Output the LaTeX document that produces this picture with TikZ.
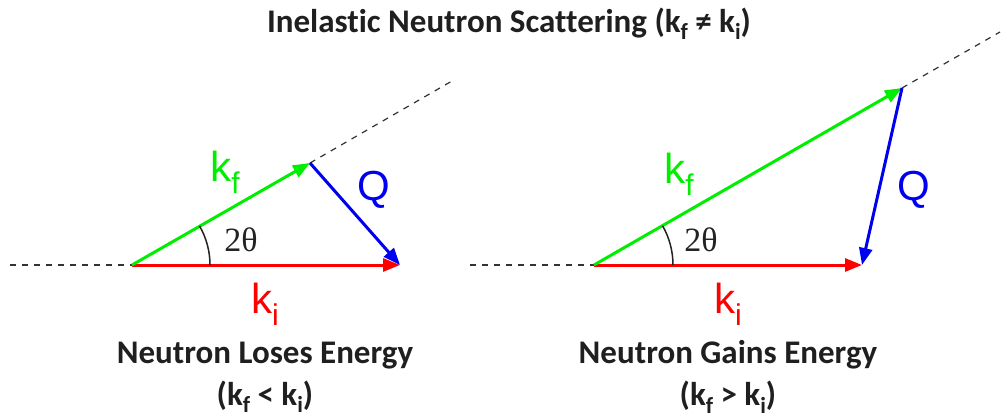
\documentclass[tikz,border=0pt]{standalone}
\usepackage{fontspec}
\setmainfont[Ligatures=NoCommon]{Carlito}
\newfontfamily\arialf{Liberation Sans}
\newfontfamily\serff{Liberation Serif}
\usetikzlibrary{arrows.meta}
\definecolor{vgreen}{RGB}{0,238,0}
\definecolor{vred}{RGB}{255,0,0}
\definecolor{vblue}{RGB}{0,0,240}
\definecolor{dgray}{RGB}{35,35,35}
\newcommand{\sub}[1]{\raisebox{-0.28em}{\fontsize{30}{30}\selectfont #1}}
\newcommand{\bsub}[1]{\raisebox{-0.22em}{\fontsize{23}{23}\selectfont #1}}
\tikzset{
  vec/.style={line width=3pt,-{Triangle[length=17pt,width=13pt]}},
  guide/.style={line width=1.2pt,dash pattern=on 6pt off 6pt,black!80},
  anglearc/.style={line width=1.5pt,dgray},
  veclabel/.style={font=\arialf\fontsize{42}{42}\selectfont,inner sep=0pt},
  anglelabel/.style={font=\serff\fontsize{34}{34}\selectfont,text=dgray,inner sep=0pt},
  caption/.style={font=\bfseries\fontsize{33}{33}\selectfont,text=black!88,inner sep=0pt,align=center}
}
\begin{document}
\begin{tikzpicture}[x=1pt,y=-1pt]
\useasboundingbox (0,0) rectangle (1002,417);
\node[caption] (title) at (509,24) {Inelastic Neutron Scattering (k\bsub{f} ≠ k\bsub{i})};
% left diagram
\coordinate (LO) at (132,265);
\coordinate (LI) at (400,265);
\coordinate (LF) at (310,163);
\coordinate (LS) at (10,265);
\coordinate (LE) at (452,81);
\draw[guide] (LS) -- (LO);
\draw[guide] (LF) -- (LE);
\draw[vec,vred] (LO) -- (LI);
\draw[vec,vgreen] (LO) -- (LF);
\draw[vec,vblue] (LF) -- (LI);
\draw[anglearc] (LO) ++(0:78) arc[start angle=0,end angle=-30,radius=78];
\node[veclabel,text=vgreen] (lkf) at (225,172) {k\sub{f}};
\node[veclabel,text=vblue] (lq) at (374,190) {Q};
\node[veclabel,text=vred] (lki) at (265,304) {k\sub{i}};
\node[anglelabel] (lth) at (241,240) {2θ};
\node[caption] (lcap) at (265,377) {Neutron Loses Energy\\[9pt](k\bsub{f} < k\bsub{i})};
% right diagram
\coordinate (RO) at (594,265);
\coordinate (RI) at (862,265);
\coordinate (RF) at (902,88);
\coordinate (RS) at (470,265);
\coordinate (RE) at (1000,32);
\draw[guide] (RS) -- (RO);
\draw[guide] (RF) -- (RE);
\draw[vec,vred] (RO) -- (RI);
\draw[vec,vgreen] (RO) -- (RF);
\draw[vec,vblue] (RF) -- (RI);
\draw[anglearc] (RO) ++(0:79) arc[start angle=0,end angle=-29.7,radius=79];
\node[veclabel,text=vgreen] (rkf) at (679,174) {k\sub{f}};
\node[veclabel,text=vblue] (rq) at (914,190) {Q};
\node[veclabel,text=vred] (rki) at (728,304) {k\sub{i}};
\node[anglelabel] (rth) at (701,240) {2θ};
\node[caption] (rcap) at (728,377) {Neutron Gains Energy\\[9pt](k\bsub{f} > k\bsub{i})};
\end{tikzpicture}
\end{document}
